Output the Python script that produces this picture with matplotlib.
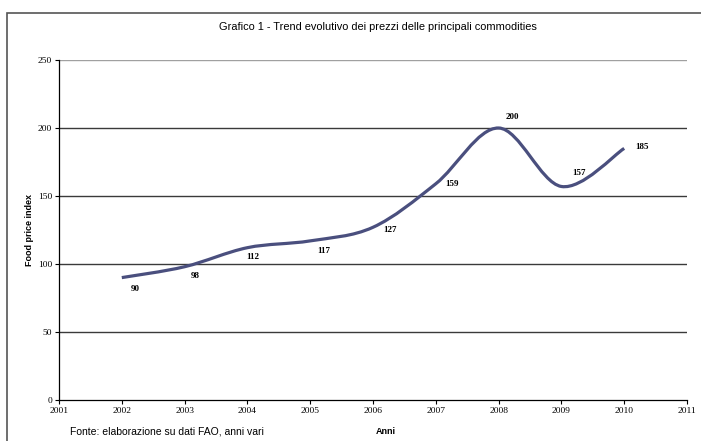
import matplotlib.pyplot as plt
import matplotlib.patches as mpatches
from matplotlib.path import Path
import numpy as np

# data
years = [2002, 2003, 2004, 2005, 2006, 2007, 2008, 2009, 2010]
index = [90, 98, 112, 117, 127, 159, 200, 157, 185]
# label offsets (points)
label_off = [(10, -8), (8, -7), (4, -7), (10, -7), (12, -2), (12, 0), (10, 8), (13, 10), (13, 1)]

fig = plt.figure(figsize=(7.01, 4.41), dpi=100)
ax = fig.add_axes([59 / 701, 41 / 441, 628 / 701, 340 / 441])

# smoothed line (excel style bezier)
x = np.array(years, dtype=float)
y = np.array(index, dtype=float)
verts = [(x[0], y[0])]
codes = [Path.MOVETO]
n = len(x)
for i in range(n - 1):
    p0 = np.array([x[max(i - 1, 0)], y[max(i - 1, 0)]])
    p1 = np.array([x[i], y[i]])
    p2 = np.array([x[i + 1], y[i + 1]])
    p3 = np.array([x[min(i + 2, n - 1)], y[min(i + 2, n - 1)]])
    c1 = p1 + (p2 - p0) / 6
    c2 = p2 - (p3 - p1) / 6
    verts += [tuple(c1), tuple(c2), tuple(p2)]
    codes += [Path.CURVE4] * 3
ax.add_patch(mpatches.PathPatch(Path(verts, codes), fill=False, edgecolor="#4a4f7e",
                                lw=2.3, capstyle="butt", zorder=3))

for xi, yi, (dx, dy) in zip(years, index, label_off):
    ax.annotate(str(yi), (xi, yi), xytext=(dx, dy), textcoords="offset points",
                ha="center", va="center", fontsize=6.5, fontweight="bold",
                family="Liberation Serif")

ax.set_xlim(2001, 2011)
ax.set_ylim(0, 250)
ax.set_xticks(range(2001, 2012))
ax.set_yticks(range(0, 251, 50))
for v in [50, 100, 150, 200]:
    ax.axhline(v, color="#3a3a3a", lw=1.0, zorder=1)
ax.axhline(250, color="#a0a0a0", lw=1.0, zorder=1)
for s in ["top", "right"]:
    ax.spines[s].set_visible(False)
ax.spines["left"].set_linewidth(0.9)
ax.spines["bottom"].set_linewidth(0.9)
ax.tick_params(axis="both", direction="out", length=3, width=0.8, labelsize=6.8, pad=2)
for lab in ax.get_xticklabels() + ax.get_yticklabels():
    lab.set_family("Liberation Serif")

ax.set_ylabel("Food price index", fontsize=6.5, fontweight="bold", family="Liberation Sans", labelpad=3)
fig.text(386 / 701, 1 - 432 / 441, "Anni", fontsize=6.5, fontweight="bold",
         family="Liberation Sans", ha="center", va="center")
fig.text(70 / 701, 1 - 432 / 441, "Fonte: elaborazione su dati FAO, anni vari", fontsize=7.5,
         family="Liberation Sans", ha="left", va="center")
fig.text(378 / 701, 1 - 27 / 441, "Grafico 1 - Trend evolutivo dei prezzi delle principali commodities",
         fontsize=7.9, family="Liberation Sans", ha="center", va="center")

# outer frame
fig.patches.append(mpatches.Rectangle((7 / 701, -0.05), 1.0, 1 - 13 / 441 + 0.05,
                                      transform=fig.transFigure, fill=False,
                                      edgecolor="#555555", lw=1.2))

fig.savefig("out.png", dpi=100)
